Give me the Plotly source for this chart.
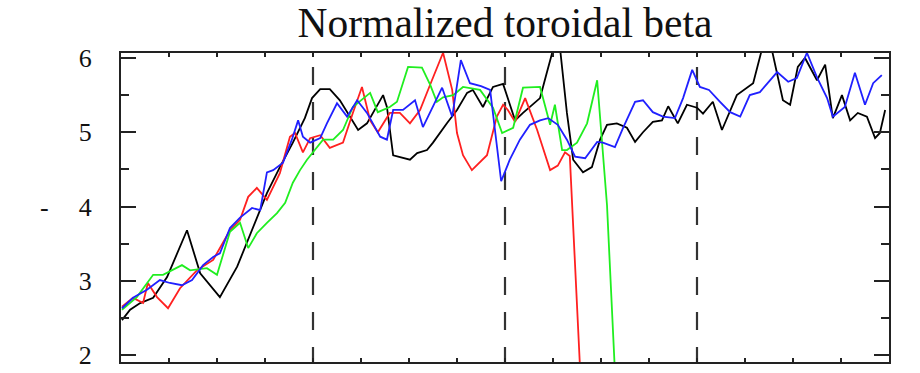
import plotly.graph_objects as go

# ---- data (x: time-like units, dashed markers at 4, 8, 12; y: normalized beta) ----
black_x = [0.02, 0.19, 0.40, 0.67, 0.96, 1.375, 1.65, 2.06, 2.42, 2.75, 3.04, 3.31, 3.58, 3.83, 3.98,
           4.15, 4.35, 4.56, 4.94, 5.125, 5.46, 5.54, 5.67, 6.02, 6.17, 6.375, 6.50, 6.79, 7.00, 7.21,
           7.33, 7.54, 7.75, 7.96, 8.04, 8.21, 8.375, 8.73, 8.875, 9.00, 9.15, 9.29, 9.42, 9.625, 9.81,
           9.98, 10.125, 10.33, 10.54, 10.71, 10.875, 11.08, 11.27, 11.40, 11.60, 11.79, 12.00, 12.125,
           12.33, 12.52, 12.83, 13.17, 13.35, 13.56, 13.79, 13.94, 14.10, 14.25, 14.50, 14.67, 14.83,
           15.02, 15.19, 15.35, 15.54, 15.71, 15.81, 15.92]
black_y = [2.47, 2.61, 2.70, 2.77, 3.05, 3.68, 3.10, 2.78, 3.19, 3.72, 4.18, 4.53, 4.86, 5.19, 5.46,
           5.58, 5.58, 5.43, 5.03, 5.12, 5.50, 5.34, 4.69, 4.63, 4.72, 4.76, 4.86, 5.12, 5.30, 5.53,
           5.57, 5.34, 5.61, 5.65, 5.50, 5.16, 5.26, 5.46, 5.81, 6.11, 6.11, 5.26, 4.63, 4.46, 4.53,
           4.90, 5.10, 5.12, 5.06, 4.87, 5.00, 5.14, 5.16, 5.35, 5.12, 5.37, 5.33, 5.25,
           5.41, 5.03, 5.50, 5.66, 6.11, 6.11, 5.43, 5.37, 5.88, 6.00, 5.70, 5.91, 5.19,
           5.50, 5.16, 5.26, 5.21, 4.92, 4.99, 5.30]

red_x = [0.02, 0.25, 0.46, 0.56, 0.75, 0.98, 1.23, 1.58, 1.92, 2.27, 2.48, 2.65, 2.83, 3.04, 3.31,
         3.52, 3.625, 3.79, 3.94, 4.15, 4.35, 4.625, 4.83, 5.02, 5.19, 5.35, 5.60, 5.81, 6.02, 6.23,
         6.44, 6.71, 6.90, 7.00, 7.125, 7.31, 7.625, 7.83, 7.96, 8.06, 8.21, 8.42, 8.67, 8.94, 9.10,
         9.25, 9.35, 9.58]
red_y = [2.65, 2.77, 2.70, 2.97, 2.78, 2.63, 2.90, 3.14, 3.28, 3.68, 3.82, 4.13, 4.25, 4.09, 4.45,
         4.94, 4.99, 4.73, 4.92, 4.96, 4.79, 4.86, 5.26, 5.61, 5.16, 5.00, 5.26, 5.26, 5.12, 5.30,
         5.64, 6.07, 5.57, 4.99, 4.69, 4.49, 4.69, 5.21, 5.37, 5.30, 5.14, 5.46, 5.03, 4.49, 4.55,
         4.73, 4.68, 1.60]

green_x = [0.02, 0.33, 0.67, 0.875, 1.27, 1.44, 1.79, 2.00, 2.27, 2.48, 2.65, 2.83, 3.04, 3.25, 3.42,
           3.58, 3.73, 3.875, 4.00, 4.21, 4.42, 4.625, 4.83, 5.19, 5.35, 5.60, 5.75, 5.98, 6.27, 6.44,
           6.58, 6.71, 6.92, 7.125, 7.48, 7.75, 7.94, 8.17, 8.375, 8.73, 8.94, 9.04, 9.19, 9.29, 9.50,
           9.71, 9.92, 10.125, 10.31]
green_y = [2.61, 2.78, 3.08, 3.08, 3.21, 3.14, 3.17, 3.08, 3.66, 3.78, 3.44, 3.64, 3.78, 3.91, 4.05,
           4.32, 4.49, 4.63, 4.73, 4.90, 4.90, 5.03, 5.34, 5.53, 5.27, 5.34, 5.41, 5.88, 5.87, 5.64,
           5.41, 5.47, 5.50, 5.61, 5.57, 5.33, 4.99, 5.06, 5.60, 5.61, 5.10, 5.37, 4.76, 4.76, 4.86,
           5.12, 5.70, 4.02, 1.50]

blue_x = [0.02, 0.25, 0.54, 0.81, 1.02, 1.27, 1.48, 1.71, 1.92, 2.06, 2.27, 2.48, 2.73, 2.90, 3.04,
          3.17, 3.375, 3.56, 3.69, 3.79, 3.94, 4.15, 4.29, 4.50, 4.71, 4.92, 5.125, 5.40, 5.54, 5.67,
          5.875, 6.125, 6.29, 6.50, 6.69, 6.90, 7.08, 7.27, 7.50, 7.69, 7.92, 8.10, 8.31, 8.52, 8.73,
          8.90, 9.10, 9.29, 9.46, 9.67, 9.92, 10.04, 10.29, 10.46, 10.71, 10.875, 11.08, 11.29, 11.54,
          11.71, 11.90, 12.06, 12.25, 12.48, 12.69, 12.90, 13.10, 13.31, 13.67, 13.90, 14.08, 14.29,
          14.50, 14.71, 14.83, 15.08, 15.29, 15.50, 15.67, 15.85]
blue_y = [2.63, 2.77, 2.88, 3.01, 2.97, 2.94, 3.01, 3.21, 3.32, 3.37, 3.71, 3.85, 3.98, 3.95, 4.46,
          4.49, 4.59, 4.90, 5.16, 4.94, 4.86, 4.92, 5.12, 5.39, 5.21, 5.43, 5.26, 4.94, 4.90, 5.30,
          5.30, 5.43, 5.07, 5.35, 5.60, 5.21, 5.97, 5.66, 5.62, 5.57, 4.34, 4.63, 4.90, 5.10, 5.16,
          5.19, 5.10, 4.90, 4.67, 4.65, 4.87, 4.86, 4.80, 5.06, 5.41, 5.43, 5.27, 5.21, 5.19,
          5.46, 5.84, 5.61, 5.57, 5.41, 5.27, 5.21, 5.50, 5.54, 5.81, 5.68, 5.73, 6.07,
          5.74, 5.46, 5.21, 5.34, 5.80, 5.37, 5.66, 5.77]

marker_times = [4, 8, 12]
y_ticks = [2, 3, 4, 5, 6]
title_text = "Normalized toroidal beta"
y_label = "-"

SERIF = "Liberation Serif, Times New Roman, serif"
AX = "#222222"

fig = go.Figure()
for xs, ys, col in [(black_x, black_y, "#000000"),
                    (red_x, red_y, "#ff2020"),
                    (green_x, green_y, "#20ee20"),
                    (blue_x, blue_y, "#2020ff")]:
    fig.add_trace(go.Scatter(x=xs, y=ys, mode="lines",
                             line=dict(color=col, width=1.8), showlegend=False,
                             hoverinfo="skip"))

y_lo, y_hi = 1.906, 6.067
for t in marker_times:
    fig.add_shape(type="line", xref="x", yref="y", x0=t, x1=t,
                  y0=y_lo - 0.04, y1=y_hi + 0.2, layer="below",
                  line=dict(color="#333333", width=2.2, dash="18px,17px"))

fig.update_xaxes(range=[0, 16], showline=True, linecolor=AX, linewidth=2, mirror="ticks",
                 ticks="inside", ticklen=4, tickwidth=2, tickcolor=AX, tick0=0, dtick=1,
                 showticklabels=False, showgrid=False, zeroline=False, automargin=False)
fig.update_yaxes(range=[y_lo, y_hi], showline=True, linecolor=AX, linewidth=2, mirror="ticks",
                 ticks="inside", ticklen=15, tickwidth=2, tickcolor=AX,
                 tickvals=y_ticks, ticktext=[str(v) for v in y_ticks],
                 minor=dict(ticks="inside", ticklen=8, tickwidth=2, tickcolor=AX, dtick=0.5,
                            tick0=0, showgrid=False),
                 tickfont=dict(family=SERIF, size=26, color="#111111"),
                 ticklabelstandoff=22,
                 showgrid=False, zeroline=False, automargin=False)

fig.add_annotation(text=y_label, xref="paper", yref="paper", x=-0.099, y=0.5,
                   showarrow=False, font=dict(family=SERIF, size=26, color="#111111"),
                   xanchor="center", yanchor="middle")

fig.update_layout(
    width=920, height=373,
    margin=dict(l=121, r=31, t=53, b=11, autoexpand=False),
    paper_bgcolor="white", plot_bgcolor="white",
    title=dict(text=title_text, x=0.5, xanchor="center", xref="paper",
               y=1 - 22 / 373, yref="container", yanchor="middle",
               font=dict(family=SERIF, size=41.5, color="#111111")),
)

fig.write_html("out.html")
